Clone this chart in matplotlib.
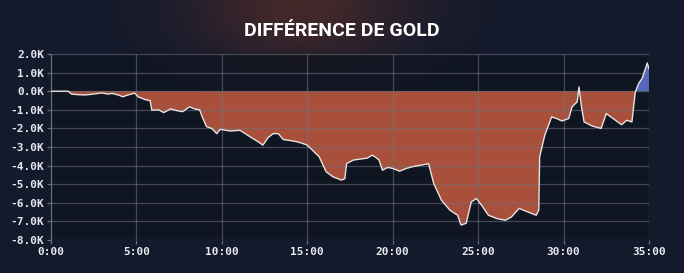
import numpy as np
import matplotlib
matplotlib.use('Agg')
import matplotlib.pyplot as plt

plt.rcParams['font.family'] = 'DejaVu Sans Mono'
plt.rcParams['font.weight'] = 'bold'

# game time (minutes) and gold difference (thousands)
minutes = [0.0, 1.0, 1.2, 1.5, 2.0, 2.5, 3.0, 3.3, 3.6, 4.0, 4.2, 4.5, 4.9, 5.1, 5.5,
           5.8, 5.9, 6.3, 6.6, 7.0, 7.4, 7.7, 8.1, 8.4, 8.7, 8.85, 9.1, 9.4, 9.7, 9.9,
           10.5, 11.06, 11.4, 11.8, 12.1, 12.4, 12.7, 13.0, 13.3, 13.6, 14.0, 14.4,
           14.7, 15.0, 15.3, 15.5, 15.7, 16.1, 16.5, 17.0, 17.2, 17.3, 17.7, 18.1,
           18.5, 18.8, 19.0, 19.2, 19.4, 19.7, 20.0, 20.4, 20.8, 21.2, 21.6, 22.1,
           22.4, 22.85, 23.35, 23.8, 24.0, 24.3, 24.6, 24.9, 25.2, 25.6, 26.1, 26.6,
           26.95, 27.4, 27.9, 28.4, 28.55, 28.6, 28.9, 29.3, 29.6, 29.9, 30.3, 30.5,
           30.8, 30.9, 31.05, 31.2, 31.7, 32.2, 32.5, 32.9, 33.4, 33.7, 34.0, 34.2,
           34.4, 34.6, 34.9, 35.0]
gold_k = [0, 0, -0.15, -0.18, -0.2, -0.15, -0.09, -0.15, -0.12, -0.22, -0.3, -0.2,
          -0.1, -0.3, -0.45, -0.5, -1.02, -1.0, -1.15, -0.95, -1.05, -1.1, -0.84,
          -0.95, -1.0, -1.38, -1.9, -2.0, -2.28, -2.05, -2.14, -2.1, -2.3, -2.54,
          -2.7, -2.9, -2.5, -2.28, -2.28, -2.6, -2.65, -2.72, -2.8, -2.9, -3.17,
          -3.35, -3.53, -4.33, -4.6, -4.78, -4.7, -3.89, -3.7, -3.65, -3.6, -3.44,
          -3.55, -3.7, -4.25, -4.1, -4.15, -4.3, -4.15, -4.05, -3.98, -3.9, -4.96,
          -5.86, -6.4, -6.67, -7.2, -7.1, -5.95, -5.77, -6.13, -6.67, -6.85, -6.94,
          -6.76, -6.3, -6.49, -6.67, -6.4, -3.53, -2.37, -1.38, -1.47, -1.6, -1.47,
          -0.84, -0.57, 0.23, -0.84, -1.65, -1.88, -2.0, -1.2, -1.47, -1.8, -1.56,
          -1.65, -0.03, 0.42, 0.69, 1.52, 1.2]

x_ticks = [0, 5, 10, 15, 20, 25, 30, 35]
x_labels = ['0:00', '5:00', '10:00', '15:00', '20:00', '25:00', '30:00', '35:00']
y_ticks = [2, 1, 0, -1, -2, -3, -4, -5, -6, -7, -8]
y_labels = ['%.1fK' % v for v in y_ticks]

t = np.array(minutes)
g = np.array(gold_k)

fig = plt.figure(figsize=(6.84, 2.73), dpi=100)
fig.patch.set_facecolor('#131a2c')

# soft background glow behind the title
bg = fig.add_axes([0, 0, 1, 1], zorder=-5)
yy, xx = np.mgrid[0:273, 0:684]
glow = np.exp(-(((xx - 300) / 110.0) ** 2 + ((yy - 5) / 60.0) ** 2))
base = np.array([0x13, 0x1a, 0x2c]) / 255.0
warm = np.array([0x50, 0x2c, 0x2a]) / 255.0
img = base + (warm - base) * glow[:, :, None] * 0.8
bg.imshow(img, aspect='auto')
bg.axis('off')

ax = fig.add_axes([0.0746, 0.121, 0.8742, 0.681])
ax.set_facecolor((0.06, 0.08, 0.12, 0.7))

ax.fill_between(t, g, 0, where=g <= 0, interpolate=True, color='#bb573f', alpha=0.9,
                linewidth=0, zorder=1)
ax.fill_between(t, g, 0, where=g >= 0, interpolate=True, color='#5a6cc8', alpha=0.95,
                linewidth=0, zorder=1)
ax.plot(t, g, color='#e8e2e0', lw=1.0, zorder=3)

ax.set_xlim(0, 35)
ax.set_ylim(-8, 2)
ax.set_xticks(x_ticks)
ax.set_xticklabels(x_labels)
ax.set_yticks(y_ticks)
ax.set_yticklabels(y_labels)
ax.grid(True, color='#707480', lw=0.9, alpha=0.55, zorder=2)
ax.set_axisbelow(False)
for s in ax.spines.values():
    s.set_visible(False)
ax.spines['left'].set_visible(True)
ax.spines['left'].set_color('#6a6e78')
ax.tick_params(colors='#6a6e78', labelcolor='#e6e8ee', labelsize=8, length=3,
               width=0.9, pad=2)

fig.text(0.5, 0.885, 'DIFFÉRENCE DE GOLD', ha='center', va='center', color='white',
         fontsize=14, fontweight='bold', family=['Roboto', 'DejaVu Sans'])

fig.savefig('out.png', dpi=100, facecolor=fig.get_facecolor())
